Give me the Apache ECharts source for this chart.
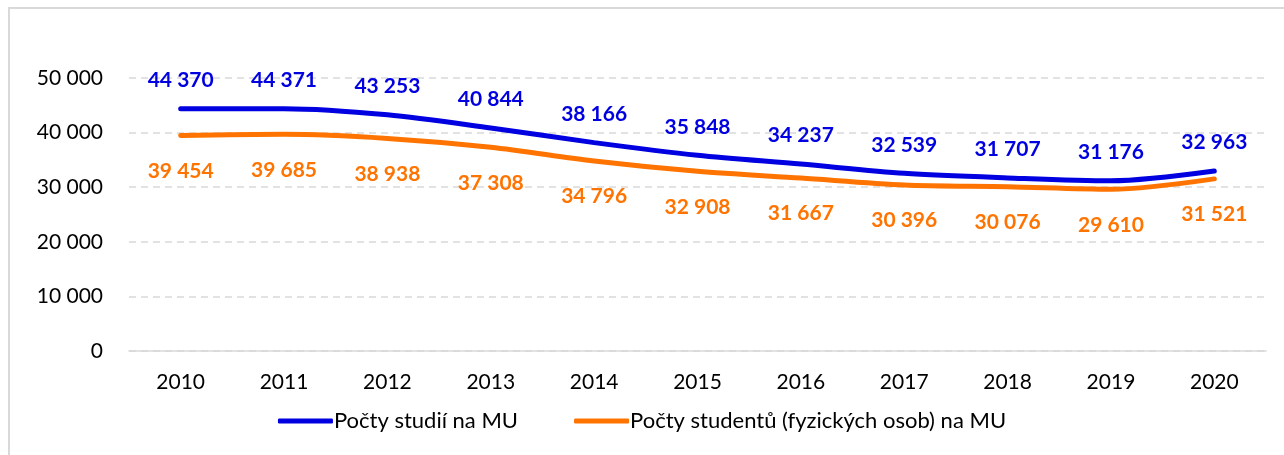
<!DOCTYPE html>
<html>
<head>
<meta charset="utf-8">
<script src="https://cdn.jsdelivr.net/npm/echarts@6/dist/echarts.min.js"></script>
<style>
  html, body { margin: 0; padding: 0; background: #fff; }
  #frame {
    position: absolute; left: 8px; top: 7px; width: 1290px; height: 460px;
    border-top: 2px solid #d9d9d9; border-left: 2px solid #d9d9d9;
  }
  #chart { position: absolute; left: 0; top: 0; width: 1284px; height: 455px; }
</style>
</head>
<body>
<div id="frame"></div>
<div id="chart"></div>
<script>
const years = ['2010', '2011', '2012', '2013', '2014', '2015', '2016', '2017', '2018', '2019', '2020']
const studies = [44370, 44371, 43253, 40844, 38166, 35848, 34237, 32539, 31707, 31176, 32963]
const students = [39454, 39685, 38938, 37308, 34796, 32908, 31667, 30396, 30076, 29610, 31521]
const seriesNames = ['Počty studií na MU', 'Počty studentů (fyzických osob) na MU']

const font = 'Lato, "Open Sans", sans-serif'
const blue = '#0000e0'
const orange = '#ff7400'

function fmt(v) {
  return String(v).replace(/\B(?=(\d{3})+(?!\d))/g, ' ')
}

function lineSeries(name, data, color, position, distance) {
  return {
    name: name,
    type: 'line',
    data: data,
    smooth: 0.3,
    symbol: 'circle',
    symbolSize: 0,
    showSymbol: true,
    lineStyle: { color: color, width: 5, cap: 'round' },
    itemStyle: { color: color },
    label: {
      show: true,
      position: position,
      distance: distance,
      color: color,
      fontWeight: 'bold',
      fontSize: 21,
      fontFamily: font,
      formatter: p => fmt(p.value)
    }
  }
}

const chart = echarts.init(document.getElementById('chart'))
chart.setOption({
  animation: false,
  textStyle: { fontFamily: font },
  grid: { left: 129, right: 18, top: 78, bottom: 104 },
  legend: {
    bottom: 18,
    left: 'center',
    itemWidth: 55,
    itemHeight: 5,
    itemGap: 56,
    icon: 'roundRect',
    textStyle: { fontFamily: font, fontSize: 22, color: '#000', padding: [0, 0, 0, -4] },
    data: seriesNames
  },
  xAxis: {
    type: 'category',
    data: years,
    boundaryGap: true,
    axisLine: { lineStyle: { color: '#d9d9d9', width: 1.5 } },
    axisTick: { show: false },
    axisLabel: { color: '#000', fontSize: 21, margin: 21, fontFamily: font }
  },
  yAxis: {
    type: 'value',
    min: 0,
    max: 50000,
    interval: 10000,
    axisLine: { show: false },
    axisTick: { show: false },
    axisLabel: { color: '#000', fontSize: 21, margin: 26, fontFamily: font, formatter: fmt },
    splitLine: { lineStyle: { color: '#d9d9d9', type: [7, 5], width: 1.5 } }
  },
  series: [
    lineSeries(seriesNames[0], studies, blue, 'top', 18),
    lineSeries(seriesNames[1], students, orange, 'bottom', 25)
  ]
})
</script>
</body>
</html>
